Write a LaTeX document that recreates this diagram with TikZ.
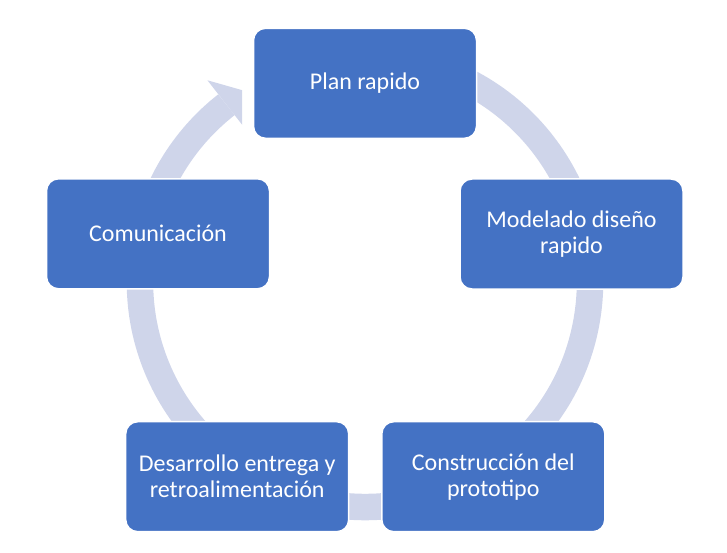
\documentclass[tikz,border=0pt]{standalone}
\usepackage{fontspec}
\setmainfont{Carlito}
\definecolor{boxblue}{HTML}{4472C4}
\definecolor{ringblue}{HTML}{CFD5EA}
\begin{document}
\begin{tikzpicture}[x=1pt,y=1pt,
  stepbox/.style={rectangle, rounded corners=12pt, fill=boxblue, draw=white,
    line width=1.5pt, minimum width=223pt, minimum height=110pt, text=white,
    align=center, font=\fontsize{24}{26}\selectfont, inner sep=0pt},
  ring/.style={draw=ringblue, line width=26.5pt},
  ringhead/.style={fill=ringblue}]
\useasboundingbox (0,0) rectangle (727,552);
\coordinate (c) at (365,270);
% continuous circular arrow behind the boxes
\draw[ring] ([shift={(80:225)}]c) arc[start angle=80, end angle=-232, radius=225];
\begin{scope}
  \clip (0,0) rectangle (242,552);
  \fill[ringhead] ([shift={(128:256)}]c) -- ([shift={(122:225)}]c)
    -- ([shift={(128:194)}]c) -- cycle;
\end{scope}
% boxes
\node[stepbox] (plan)   at (365,468.7) {Plan rapido};
\node[stepbox] (model)  at (571.5,318) {Modelado diseño\\rapido};
\node[stepbox] (constr) at (493.3,75.3) {Construcción del\\prototipo};
\node[stepbox] (desarr) at (237.2,75.3) {Desarrollo entrega y\\retroalimentación};
\node[stepbox] (comun)  at (158,318.2) {Comunicación};
\end{tikzpicture}
\end{document}
